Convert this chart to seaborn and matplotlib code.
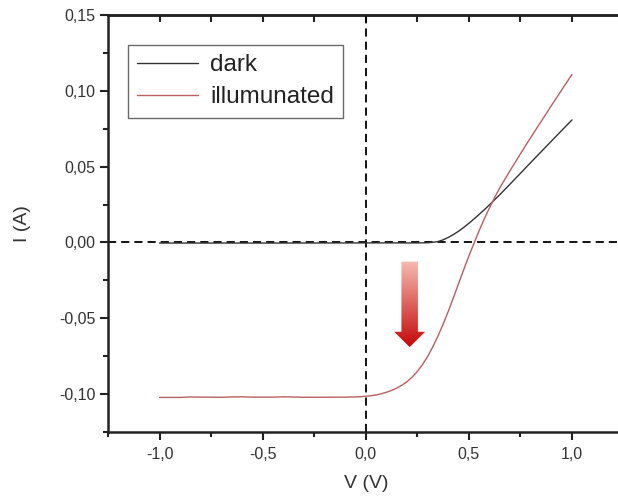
import numpy as np
import pandas as pd
import matplotlib
matplotlib.use("Agg")
import matplotlib.pyplot as plt
from matplotlib.patches import Polygon
from matplotlib.ticker import FuncFormatter, MultipleLocator
import seaborn as sns

# I-V sweep of the cell, in the dark and under illumination
v_dark = [-1.0, -0.5, 0.0, 0.2, 0.25, 0.3, 0.325, 0.35, 0.375, 0.4, 0.425,
          0.45, 0.475, 0.5, 0.525, 0.55, 0.575, 0.6, 0.65, 0.7, 0.8, 0.9, 1.0]
i_dark = [-0.0004, -0.0004, -0.0003, -0.0003, -0.0003, -0.0002, 0.0001,
          0.0006, 0.0017, 0.0033, 0.0052, 0.0074, 0.0099, 0.0126, 0.0155,
          0.0185, 0.0216, 0.0248, 0.0315, 0.0385, 0.0527, 0.0668, 0.0808]

v_light = [-1.0, -0.9, -0.85, -0.8, -0.7, -0.65, -0.6, -0.55, -0.45, -0.4,
           -0.3, -0.2, -0.1, -0.03, 0.0, 0.025, 0.05, 0.075, 0.1, 0.125,
           0.15, 0.175, 0.2, 0.225, 0.25, 0.275, 0.3, 0.325, 0.35, 0.375,
           0.4, 0.425, 0.45, 0.475, 0.5, 0.525, 0.55, 0.575, 0.6, 0.625,
           0.65, 0.7, 0.75, 0.8, 0.9, 1.0]
i_light = [-0.1022, -0.1022, -0.1019, -0.1020, -0.1021, -0.1019, -0.1018,
           -0.1020, -0.1020, -0.1018, -0.1021, -0.1021, -0.1020, -0.1018,
           -0.1014, -0.1011, -0.1006, -0.0998, -0.0988, -0.0976, -0.0961,
           -0.0942, -0.0918, -0.0888, -0.0851, -0.0806, -0.0752, -0.0689,
           -0.0618, -0.0540, -0.0455, -0.0365, -0.0272, -0.0180, -0.0090,
           -0.0005, 0.0078, 0.0156, 0.0228, 0.0296, 0.0360, 0.0474, 0.0584,
           0.0692, 0.0902, 0.1108]

series_names = ["dark", "illumunated"]
series_colors = ["#333333", "#bb5f5f"]

x_ticks = [-1.0, -0.5, 0.0, 0.5, 1.0]
y_ticks = [-0.10, -0.05, 0.00, 0.05, 0.10, 0.15]

df = pd.concat([
    pd.DataFrame({"V": v_dark, "I": i_dark, "curve": series_names[0]}),
    pd.DataFrame({"V": v_light, "I": i_light, "curve": series_names[1]}),
], ignore_index=True)

sns.set_style("ticks")
plt.rcParams["font.family"] = ["Liberation Sans", "DejaVu Sans"]

fig = plt.figure(figsize=(6.18, 4.97), dpi=100)
ax = fig.add_axes([108 / 618, 65 / 497, 515.5 / 618, 417 / 497])

sns.lineplot(data=df, x="V", y="I", hue="curve", hue_order=series_names,
             palette=series_colors, estimator=None, sort=False,
             linewidth=1.0, ax=ax, legend=False)

# reference lines through the origin
dash = (0, (4.5, 2.8))
ax.axhline(0, color="black", lw=1.3, linestyle=dash, zorder=1)
ax.axvline(0, color="black", lw=1.3, linestyle=dash, zorder=1)

# gradient arrow pointing down (photocurrent direction)
xc = 0.213
shaft_half, head_half = 0.040, 0.075
y_top, y_base, y_tip = -0.0126, -0.0589, -0.0690
arrow_pts = [(xc - shaft_half, y_top), (xc + shaft_half, y_top),
             (xc + shaft_half, y_base), (xc + head_half, y_base),
             (xc, y_tip), (xc - head_half, y_base),
             (xc - shaft_half, y_base)]
arrow = Polygon(arrow_pts, closed=True, facecolor="none", edgecolor="none",
                transform=ax.transData)
ax.add_patch(arrow)
t = np.linspace(0, 1, 200)[:, None]
top_c = np.array([246, 188, 178]) / 255
bot_c = np.array([196, 8, 8]) / 255
grad = (top_c * (1 - t) + bot_c * t)[:, None, :] * np.ones((1, 2, 1))
im = ax.imshow(grad, extent=(xc - head_half, xc + head_half, y_tip, y_top),
               origin="upper", aspect="auto", zorder=3, interpolation="bilinear")
im.set_clip_path(arrow)

ax.set_xlim(-1.25, 1.25)
ax.set_ylim(-0.125, 0.15)


def comma(fmt):
    def f(v, pos):
        if abs(v) < 1e-9:
            v = 0.0
        return (fmt % v).replace(".", ",")
    return FuncFormatter(f)


ax.set_xticks(x_ticks)
ax.set_yticks(y_ticks)
ax.xaxis.set_major_formatter(comma("%.1f"))
ax.yaxis.set_major_formatter(comma("%.2f"))
ax.xaxis.set_minor_locator(MultipleLocator(0.25))
ax.yaxis.set_minor_locator(MultipleLocator(0.025))
ax.tick_params(which="major", direction="out", length=6, width=1.5,
               labelsize=11.5, colors="#222222", labelcolor="#333333")
ax.tick_params(which="minor", direction="out", length=3.5, width=1.5,
               colors="#222222")
ax.tick_params(axis="y", pad=3)
ax.tick_params(axis="x", pad=5)

# unlabeled inward ticks along the top frame
top = ax.secondary_xaxis("top")
top.set_xticks(np.arange(-1.0, 1.01, 0.25))
top.tick_params(direction="in", length=5, width=1.5, labeltop=False,
                colors="#222222")
top.spines["top"].set_linewidth(1.8)

for s in ax.spines.values():
    s.set_linewidth(1.8)
    s.set_color("#222222")
    s.set_visible(True)

ax.set_xlabel("V (V)", fontsize=14, color="#333333", labelpad=9)
ax.set_ylabel("I (A)", fontsize=14, color="#333333", labelpad=20)

handles = [plt.Line2D([], [], color=c, lw=1.0) for c in series_colors]
leg = ax.legend(handles, series_names, loc="upper left",
                bbox_to_anchor=(0.039, 0.928), borderaxespad=0,
                fontsize=17.5, frameon=True, fancybox=False,
                handlelength=2.5, handletextpad=0.5, labelspacing=0.42,
                borderpad=0.38)
leg.get_frame().set_edgecolor("#444444")
leg.get_frame().set_linewidth(1.0)
for txt in leg.get_texts():
    txt.set_color("#222222")

fig.savefig("out.png", dpi=100)
